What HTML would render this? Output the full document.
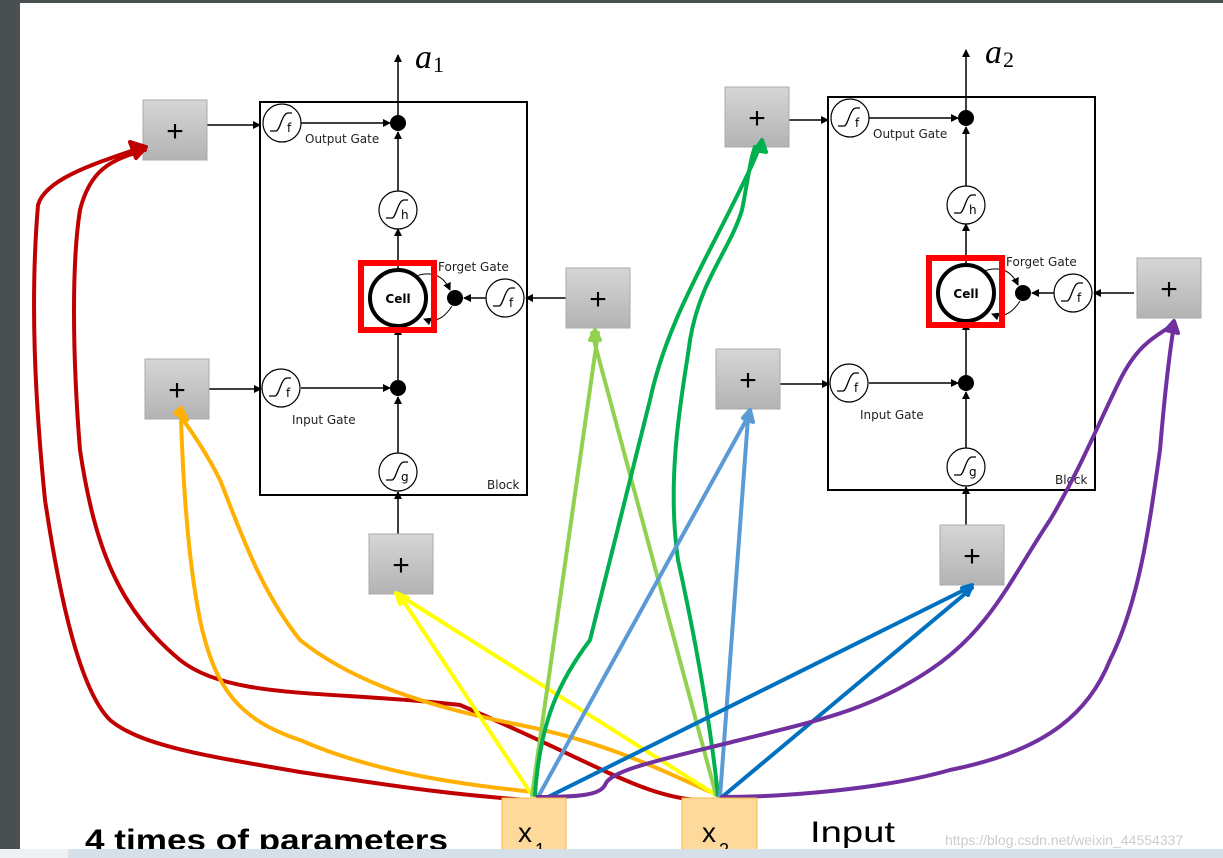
<!DOCTYPE html>
<html><head><meta charset="utf-8"><style>
html,body{margin:0;padding:0;background:#fff;}
svg{display:block;}
.d{font-family:"DejaVu Sans","Liberation Sans",sans-serif;}
.s{font-family:"Liberation Serif",serif;}
.l{font-family:"Liberation Sans",sans-serif;}
</style></head><body>
<svg width="1223" height="858" viewBox="0 0 1223 858" xmlns="http://www.w3.org/2000/svg">
<defs>
<marker id="ah" markerWidth="8" markerHeight="8" refX="7" refY="4" orient="auto" markerUnits="userSpaceOnUse"><path d="M0,0 L8,4 L0,8 z" fill="#000"/></marker>
<linearGradient id="gb" x1="0" y1="0" x2="0" y2="1"><stop offset="0" stop-color="#d6d6d6"/><stop offset="1" stop-color="#b3b3b3"/></linearGradient>
<g id="sig"><circle r="19" fill="#fff" stroke="#000" stroke-width="1.2"/><path d="M-12,8 L-6,8 C-2,8 0,-10 6,-10 L10,-10" fill="none" stroke="#000" stroke-width="1.3"/></g>
<g id="block" class="d">
<rect x="260" y="102" width="267" height="393" fill="none" stroke="#000" stroke-width="2"/>
<line x1="398" y1="123" x2="398" y2="55" stroke="#000" stroke-width="1.5" marker-end="url(#ah)"/>
<line x1="207" y1="125" x2="260" y2="125" stroke="#000" stroke-width="1.5" marker-end="url(#ah)"/>
<line x1="301" y1="123" x2="390" y2="123" stroke="#000" stroke-width="1.5" marker-end="url(#ah)"/>
<line x1="398" y1="191" x2="398" y2="132" stroke="#000" stroke-width="1.5" marker-end="url(#ah)"/>
<line x1="398" y1="268" x2="398" y2="229" stroke="#000" stroke-width="1.5" marker-end="url(#ah)"/>
<line x1="398" y1="380" x2="398" y2="328" stroke="#000" stroke-width="1.5" marker-end="url(#ah)"/>
<line x1="398" y1="453" x2="398" y2="397" stroke="#000" stroke-width="1.5" marker-end="url(#ah)"/>
<line x1="398" y1="534" x2="398" y2="492" stroke="#000" stroke-width="1.5" marker-end="url(#ah)"/>
<line x1="207" y1="389" x2="261" y2="389" stroke="#000" stroke-width="1.5" marker-end="url(#ah)"/>
<line x1="301" y1="388" x2="390" y2="388" stroke="#000" stroke-width="1.5" marker-end="url(#ah)"/>
<line x1="566" y1="298" x2="526" y2="298" stroke="#000" stroke-width="1.5" marker-end="url(#ah)"/>
<line x1="486" y1="298" x2="464" y2="298" stroke="#000" stroke-width="1.5" marker-end="url(#ah)"/>
<path d="M416,276 Q440,268 450,290" fill="none" stroke="#000" stroke-width="1" marker-end="url(#ah)"/>
<path d="M452,306 Q440,325 424,319" fill="none" stroke="#000" stroke-width="1" marker-end="url(#ah)"/>
<circle cx="398" cy="123" r="8"/><circle cx="398" cy="388" r="8"/><circle cx="455" cy="298" r="8"/>
<use href="#sig" x="282" y="123"/>
<use href="#sig" x="398" y="210"/>
<use href="#sig" x="505" y="298"/>
<use href="#sig" x="281" y="388"/>
<use href="#sig" x="398" y="472"/>
<text x="287" y="132" font-size="12">f</text>
<text x="401" y="219" font-size="12">h</text>
<text x="509" y="307" font-size="12">f</text>
<text x="286" y="397" font-size="12">f</text>
<text x="401" y="481" font-size="12">g</text>
<text x="305" y="143" font-size="12" fill="#222">Output Gate</text>
<text x="438" y="271" font-size="12" fill="#222">Forget Gate</text>
<text x="292" y="424" font-size="12" fill="#222">Input Gate</text>
<text x="487" y="489" font-size="12" fill="#222">Block</text>
<circle cx="398" cy="298" r="28" fill="#fff" stroke="#000" stroke-width="4"/>
<text x="398" y="303" font-size="12" font-weight="bold" text-anchor="middle">Cell</text>
<rect x="361" y="263" width="73" height="67" fill="none" stroke="#f00" stroke-width="6"/>
</g>
<g id="plus"><rect width="64" height="60" fill="url(#gb)" stroke="#aaa"/><text x="32" y="41" font-size="30" text-anchor="middle" class="l">+</text></g>
</defs>
<rect x="0" y="0" width="1223" height="3" fill="#4a4f52"/>
<rect x="0" y="0" width="20" height="858" fill="#4a4f52"/>
<use href="#block"/>
<use href="#block" transform="translate(568,-5)"/>
<use href="#plus" x="143" y="100"/><use href="#plus" x="145" y="359"/><use href="#plus" x="566" y="268"/><use href="#plus" x="369" y="534"/>
<use href="#plus" x="725" y="87"/><use href="#plus" x="716" y="349"/><use href="#plus" x="1137" y="258"/><use href="#plus" x="940" y="525"/>
<text x="415" y="68" font-size="34" font-style="italic" class="s">a</text><text x="433" y="72" font-size="22" class="s">1</text>
<text x="985" y="63" font-size="34" font-style="italic" class="s">a</text><text x="1003" y="67" font-size="22" class="s">2</text>
<g fill="none" stroke-width="4" stroke-linejoin="round" stroke-linecap="round">
<path d="M527,800 C460,795 420,790 300,772 C200,755 140,745 110,720 C80,690 60,600 45,500 C35,400 30,300 38,205 C45,180 90,165 140,148" stroke="#c00000"/>
<path d="M697,800 C640,796 590,760 460,705 C330,690 230,700 180,660 C120,610 95,550 80,450 C72,350 72,260 80,210 C90,170 110,160 145,150" stroke="#c00000"/>
<path d="M533,792 C470,785 380,775 300,740 C240,720 215,690 200,620 C188,560 183,480 181,418" stroke="#ffb000"/>
<path d="M718,795 C680,780 620,745 520,725 C420,705 350,680 300,640 C260,590 240,530 220,480 C205,450 190,430 182,418" stroke="#ffb000"/>
<path d="M530,792 L400,596 M716,795 L404,598" stroke="#ffff00"/>
<path d="M532,795 L598,333 M716,795 L592,333" stroke="#92d050"/>
<path d="M535,795 C540,720 560,680 590,640 C610,560 630,480 650,400 C665,330 700,270 730,210 C745,180 755,160 760,145" stroke="#00b050"/>
<path d="M718,795 C712,740 700,660 678,560 C665,470 685,380 690,340 C700,280 730,250 742,210 C748,180 750,160 755,147" stroke="#00b050"/>
<path d="M538,797 L749,415 M720,797 L748,418" stroke="#5b9bd5"/>
<path d="M548,797 L970,587 M722,797 L972,588" stroke="#0070c0"/>
<path d="M538,797 C580,797 600,795 605,785 C610,770 660,760 740,740 C820,720 870,710 930,670 C990,630 1010,580 1050,520 C1080,470 1100,420 1120,380 C1140,340 1160,335 1172,325" stroke="#7030a0"/>
<path d="M722,797 C780,797 880,790 950,770 C1050,750 1090,710 1110,660 C1140,600 1150,520 1160,450 C1165,390 1170,350 1174,325" stroke="#7030a0"/>
</g>
<g stroke-width="4" stroke-linejoin="round">
<path d="M130,142 L146,147 L136,158 z" fill="#c00000" stroke="#c00000"/>
<path d="M175,413 L181,408 L187,420 z" fill="#ffb000" stroke="#ffb000"/>
<path d="M396,593 L408,598 L400,604 z" fill="#ffff00" stroke="#ffff00"/>
<path d="M590,340 L595,330 L600,340 z" fill="#92d050" stroke="#92d050"/>
<path d="M755,150 L762,140 L766,152 z" fill="#00b050" stroke="#00b050"/>
<path d="M743,418 L750,410 L753,422 z" fill="#5b9bd5" stroke="#5b9bd5"/>
<path d="M962,588 L972,585 L968,595 z" fill="#0070c0" stroke="#0070c0"/>
<path d="M1166,330 L1174,321 L1178,333 z" fill="#7030a0" stroke="#7030a0"/>
</g>
<rect x="502" y="798" width="64" height="60" fill="#fdd99b" stroke="#f5b942"/>
<rect x="682" y="798" width="75" height="60" fill="#fdd99b" stroke="#f5b942"/>
<text x="518" y="842" font-size="28" class="l">x</text><text x="535" y="856" font-size="18" class="l">1</text>
<text x="702" y="842" font-size="28" class="l">x</text><text x="719" y="856" font-size="18" class="l">2</text>
<text x="85" y="850" font-size="30" font-weight="bold" class="l" textLength="363" lengthAdjust="spacingAndGlyphs">4 times of parameters</text>
<text x="810" y="842" font-size="30" class="l" textLength="85" lengthAdjust="spacingAndGlyphs">Input</text>
<text x="945" y="845" font-size="14" fill="#ccc" class="l">https://blog.csdn.net/weixin_44554337</text>
<rect x="0" y="849" width="1223" height="9" fill="#d5e0e8"/>
<rect x="0" y="849" width="68" height="9" fill="#eef2f4"/>
</svg>
</body></html>
